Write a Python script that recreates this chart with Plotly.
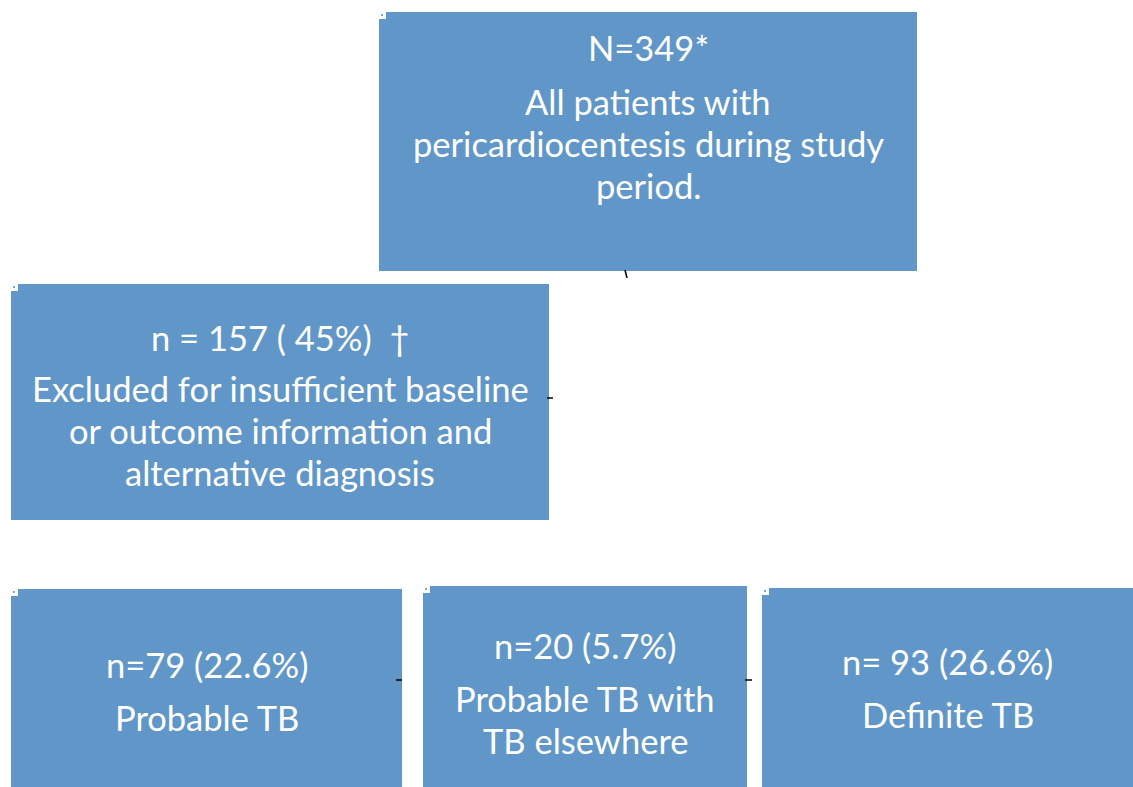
import plotly.graph_objects as go

W, H = 1133, 787
BLUE = "#6197C8"

# Box contents (data)
box_titles = ["N=349*", "n = 157 ( 45%)  \u2020", "n=79 (22.6%)", "n=20 (5.7%)", "n= 93 (26.6%)"]
box_descriptions = [
    ["All patients with", "pericardiocentesis during study", "period."],
    ["Excluded for insufficient baseline", "or outcome information and", "alternative diagnosis"],
    ["Probable TB"],
    ["Probable TB with", "TB elsewhere"],
    ["Definite TB"],
]

# Layout geometry (x0, y0, x1, y1) in pixels, y downwards
box_rects = [
    (379, 12, 917, 271),
    (11, 284, 549, 520),
    (11, 589, 402, 787),
    (423, 586, 747, 787),
    (762, 588, 1133, 787),
]
title_y = [47, 337, 664, 645, 661]
first_desc_y = [101, 388, 717, 698, 714]
line_gap = 42
FONT = dict(family="Lato", size=34.5, color="white")

fig = go.Figure()
shapes = []
annotations = []
for i, (x0, y0, x1, y1) in enumerate(box_rects):
    shapes.append(dict(type="rect", x0=x0, y0=y0, x1=x1, y1=y1,
                       xref="x", yref="y", fillcolor=BLUE, line=dict(width=0), layer="below"))
    # white notch with a tiny handle dot at the top-left corner
    shapes.append(dict(type="rect", x0=x0, y0=y0, x1=x0 + 7, y1=y0 + 7,
                       xref="x", yref="y", fillcolor="white", line=dict(width=0)))
    shapes.append(dict(type="rect", x0=x0 + 2, y0=y0 + 2, x1=x0 + 4, y1=y0 + 4,
                       xref="x", yref="y", fillcolor="#7fa9d3", line=dict(width=0)))
    cx = (x0 + x1) / 2
    annotations.append(dict(x=cx, y=title_y[i], text=box_titles[i], showarrow=False,
                            xref="x", yref="y", font=FONT))
    for j, line in enumerate(box_descriptions[i]):
        annotations.append(dict(x=cx, y=first_desc_y[i] + j * line_gap, text=line, showarrow=False,
                                xref="x", yref="y", font=FONT))

# small connector marks
connectors = [
    (547, 398, 553, 398),
    (396, 680, 402, 680),
    (745, 680, 752, 680),
    (625, 270, 627, 278),
]
for (a, b, c, d) in connectors:
    shapes.append(dict(type="line", x0=a, y0=b, x1=c, y1=d, xref="x", yref="y",
                       line=dict(color="black", width=1.5)))

fig.add_trace(go.Scatter(x=[0, W], y=[0, H], mode="markers", marker=dict(opacity=0),
                         hoverinfo="skip", showlegend=False))
fig.update_layout(
    width=W, height=H, margin=dict(l=0, r=0, t=0, b=0),
    paper_bgcolor="white", plot_bgcolor="white",
    xaxis=dict(range=[0, W], visible=False, fixedrange=True),
    yaxis=dict(range=[H, 0], visible=False, fixedrange=True),
    shapes=shapes, annotations=annotations,
)
fig.write_html("out.html", config={"displayModeBar": False})

with open("out.html", encoding="utf-8") as f:
    html = f.read()
html = html.replace("<body>", '<body style="margin:0;overflow:hidden">', 1)
with open("out.html", "w", encoding="utf-8") as f:
    f.write(html)
